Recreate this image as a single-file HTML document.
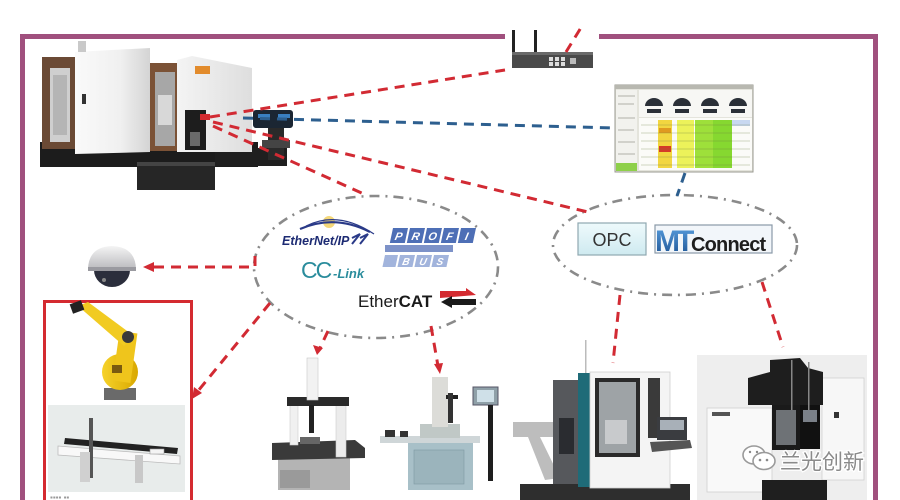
<!DOCTYPE html>
<html><head><meta charset="utf-8"><style>
html,body{margin:0;padding:0;background:#fff;width:900px;height:500px;overflow:hidden}
svg{display:block}
text{font-family:"Liberation Sans","Noto Sans CJK SC",sans-serif}
</style></head><body>
<svg width="900" height="500" viewBox="0 0 900 500" xmlns="http://www.w3.org/2000/svg">
<defs>
<linearGradient id="wh" x1="0" x2="1" y1="0" y2="0"><stop offset="0" stop-color="#fafafa"/><stop offset="0.6" stop-color="#f0f0f0"/><stop offset="1" stop-color="#d4d4d4"/></linearGradient>
<linearGradient id="cab" x1="0" x2="1"><stop offset="0" stop-color="#f4f4f4"/><stop offset="1" stop-color="#dedede"/></linearGradient>
<linearGradient id="opc" x1="0" x2="0" y1="0" y2="1"><stop offset="0" stop-color="#eefafc"/><stop offset="1" stop-color="#cfeaf0"/></linearGradient>
<linearGradient id="mt" x1="0" x2="0" y1="0" y2="1"><stop offset="0" stop-color="#5aa0e0"/><stop offset="1" stop-color="#1a4f90"/></linearGradient>
<linearGradient id="cam" x1="0" x2="0" y1="0" y2="1"><stop offset="0" stop-color="#f4f4f4"/><stop offset="1" stop-color="#b8b8bc"/></linearGradient>
<linearGradient id="yel" x1="0" x2="1"><stop offset="0" stop-color="#f6d22a"/><stop offset="1" stop-color="#d9a800"/></linearGradient>
</defs>

<!-- frame -->
<g fill="#a0507e">
<rect x="20" y="34" width="485" height="5"/>
<rect x="599" y="34" width="279" height="5"/>
<rect x="20" y="34" width="5" height="466"/>
<rect x="873" y="34" width="5" height="466"/>
</g>

<!-- main machine -->
<g>
<rect x="40" y="142" width="218" height="25" fill="#1c1c1c"/>
<rect x="215" y="148" width="72" height="18" fill="#1f1f1f"/>
<rect x="137" y="162" width="78" height="28" fill="#262626"/>
<rect x="137" y="162" width="78" height="4" fill="#444"/>
<rect x="42" y="57" width="35" height="92" fill="#6b4a35"/>
<rect x="50" y="68" width="20" height="74" fill="#cfcfcf"/>
<rect x="53" y="75" width="14" height="60" fill="#b5b5b5"/>
<path d="M75 52 L150 48 L150 152 L75 154 Z" fill="url(#wh)"/>
<rect x="78" y="41" width="8" height="11" fill="#c9c9c9"/>
<rect x="82" y="94" width="4" height="10" fill="#333"/>
<rect x="150" y="63" width="28" height="88" fill="#7b5236"/>
<rect x="155" y="72" width="20" height="74" fill="#a7a7a7"/>
<rect x="158" y="95" width="14" height="30" fill="#d8d8d8"/>
<path d="M177 60 L192 56 L252 68 L252 152 L177 152 Z" fill="url(#cab)"/>
<rect x="195" y="66" width="15" height="8" fill="#e28b2c"/>
<rect x="185" y="110" width="21" height="40" fill="#1d1d1d"/>
<rect x="190" y="132" width="10" height="14" fill="#6a6a6a"/>
<rect x="200" y="114" width="10" height="6" fill="#d42a30"/>
<rect x="253" y="110" width="40" height="18" rx="3" fill="#1b2633"/>
<rect x="258" y="114" width="12" height="4" fill="#3a7fc0"/>
<rect x="278" y="114" width="12" height="4" fill="#3a7fc0"/>
<rect x="268" y="128" width="16" height="32" fill="#2a2a2a"/>
<rect x="262" y="140" width="28" height="8" fill="#444"/>
</g>

<!-- router -->
<g>
<rect x="512" y="30" width="3" height="38" fill="#222"/>
<rect x="534" y="30" width="3" height="38" fill="#222"/>
<rect x="512" y="52" width="81" height="16" fill="#4a4a4a"/>
<rect x="512" y="52" width="81" height="3" fill="#6a6a6a"/>
<rect x="549" y="57" width="4" height="4" fill="#ddd"/><rect x="555" y="57" width="4" height="4" fill="#ddd"/><rect x="561" y="57" width="4" height="4" fill="#ddd"/>
<rect x="549" y="62" width="4" height="4" fill="#ddd"/><rect x="555" y="62" width="4" height="4" fill="#ddd"/><rect x="561" y="62" width="4" height="4" fill="#ddd"/>
<rect x="570" y="58" width="6" height="6" fill="#bbb"/>
</g>

<!-- dashboard screen -->
<g>
<rect x="615" y="85" width="138" height="87" fill="#e4e4dc" stroke="#9a9a90" stroke-width="1"/>
<rect x="615" y="85" width="138" height="4" fill="#b8b8b0"/>
<rect x="616" y="90" width="21" height="81" fill="#f2f2ee"/>
<g stroke="#b0b0a8" stroke-width="1">
<line x1="618" y1="96" x2="635" y2="96"/><line x1="618" y1="104" x2="634" y2="104"/><line x1="618" y1="118" x2="635" y2="118"/><line x1="618" y1="130" x2="634" y2="130"/><line x1="618" y1="142" x2="635" y2="142"/><line x1="618" y1="154" x2="635" y2="154"/>
</g>
<rect x="616" y="163" width="21" height="8" fill="#8ed04a"/>
<rect x="639" y="90" width="113" height="27" fill="#f7f7f4"/>
<g fill="#2b3038">
<path d="M645 106 A9 8 0 0 1 663 106 Z"/><path d="M673 106 A9 8 0 0 1 691 106 Z"/>
<path d="M701 106 A9 8 0 0 1 719 106 Z"/><path d="M729 106 A9 8 0 0 1 747 106 Z"/>
<rect x="647" y="109" width="14" height="4"/><rect x="675" y="109" width="14" height="4"/>
<rect x="703" y="109" width="14" height="4"/><rect x="731" y="109" width="14" height="4"/>
</g>
<rect x="639" y="118" width="113" height="52" fill="#fbfbf8"/>
<rect x="658" y="120" width="14" height="48" fill="#f2d640"/>
<rect x="659" y="128" width="12" height="5" fill="#e09a20"/>
<rect x="659" y="146" width="12" height="6" fill="#d43a28"/>
<rect x="677" y="120" width="17" height="48" fill="#ecf25a"/>
<rect x="695" y="120" width="18" height="48" fill="#9ee03a"/>
<rect x="713" y="120" width="19" height="48" fill="#86d830"/>
<rect x="732" y="120" width="18" height="6" fill="#c8d8f0"/>
<g stroke="#6a7a40" stroke-width="0.6" opacity="0.6">
<line x1="641" y1="125" x2="750" y2="125"/><line x1="641" y1="133" x2="750" y2="133"/><line x1="641" y1="141" x2="750" y2="141"/><line x1="641" y1="149" x2="750" y2="149"/><line x1="641" y1="157" x2="750" y2="157"/><line x1="641" y1="165" x2="750" y2="165"/>
</g>
</g>

<!-- ellipses -->
<g fill="none" stroke="#8a8a8a" stroke-width="2.6" stroke-dasharray="10 6 2 6">
<ellipse cx="376" cy="267" rx="122" ry="71"/>
<ellipse cx="675" cy="245" rx="122" ry="50"/>
</g>

<!-- connectors -->
<g fill="none" stroke="#d22a33" stroke-width="3" stroke-dasharray="10 7">
<line x1="210" y1="117" x2="505" y2="70"/>
<line x1="566" y1="52" x2="582" y2="26"/>
<line x1="213" y1="122" x2="588" y2="212"/>
<line x1="213" y1="126" x2="366" y2="195"/>
<path d="M255 256 L255 267 L150 267"/>
<line x1="270" y1="303" x2="198" y2="391"/>
<line x1="328" y1="331" x2="320" y2="348"/>
<line x1="431" y1="326" x2="438" y2="366"/>
<line x1="620" y1="295" x2="613" y2="363"/>
<line x1="762" y1="282" x2="783" y2="347"/>
</g>
<g fill="none" stroke="#2d5f8f" stroke-width="3" stroke-dasharray="10 7">
<line x1="243" y1="118" x2="614" y2="128"/>
<line x1="685" y1="173" x2="677" y2="196"/>
</g>
<g fill="#d22a33">
<polygon points="143,267 154,262 154,272"/>
<polygon points="192,399 194,387 202,393"/>
<polygon points="317,355 313,345 323,348"/>
<polygon points="440,374 434,364 443,363"/>
</g>

<!-- protocol logos -->
<g>
<circle cx="329" cy="222" r="6" fill="#f2d060" opacity="0.85"/>
<path d="M300 229 Q335 214 370 232" fill="none" stroke="#2a3a88" stroke-width="2.2"/>
<path d="M306 226 Q338 210 374 234" fill="none" stroke="#2a3a88" stroke-width="1.2"/>
<path d="M352 238 L360 234 L352 244 M360 238 L368 234 L360 244" fill="none" stroke="#2a3a88" stroke-width="2"/>
<text x="282" y="245" font-size="12.5" font-weight="bold" font-style="italic" fill="#1d2b73">EtherNet/IP</text>

<g transform="translate(393,228) skewX(-12)">
<rect x="0" y="0" width="15" height="15" fill="#4e6fb6"/><rect x="17" y="0" width="15" height="15" fill="#4e6fb6"/><rect x="34" y="0" width="15" height="15" fill="#4e6fb6"/><rect x="51" y="0" width="15" height="15" fill="#4e6fb6"/><rect x="68" y="0" width="15" height="15" fill="#4e6fb6"/>
<g font-size="11" font-weight="bold" font-style="italic" fill="#fff" text-anchor="middle">
<text x="7.5" y="12">P</text><text x="24.5" y="12">R</text><text x="41.5" y="12">O</text><text x="58.5" y="12">F</text><text x="75.5" y="12">I</text>
</g>
</g>
<rect x="385" y="245" width="68" height="7" fill="#7d92c8"/>
<g transform="translate(385,255) skewX(-12)">
<rect x="0" y="0" width="13" height="12" fill="#a2b4dc"/><rect x="15" y="0" width="15" height="12" fill="#a2b4dc"/><rect x="32" y="0" width="15" height="12" fill="#a2b4dc"/><rect x="49" y="0" width="15" height="12" fill="#a2b4dc"/>
<g font-size="10" font-weight="bold" font-style="italic" fill="#fff" text-anchor="middle">
<text x="22.5" y="10">B</text><text x="39.5" y="10">U</text><text x="56.5" y="10">S</text>
</g>
</g>

<text x="301" y="278" font-size="23" fill="#2a8c9c" letter-spacing="-2">CC</text>
<text x="333" y="278" font-size="13" font-weight="bold" font-style="italic" fill="#2a8c9c">-Link</text>

<text x="358" y="307" font-size="17" fill="#1a1a1a">Ether<tspan font-weight="bold">CAT</tspan></text>
<polygon points="440,291 466,291 466,288 476,295 440,298" fill="#d42a30"/>
<polygon points="476,299 452,299 452,296 441,302 452,308 452,305 476,305" fill="#1a1a1a"/>
</g>

<!-- OPC / MTConnect -->
<rect x="578" y="223" width="68" height="32" fill="url(#opc)" stroke="#8fa8b0" stroke-width="1.2"/>
<text x="612" y="246" font-size="18" fill="#333" text-anchor="middle">OPC</text>
<rect x="655" y="225" width="117" height="28" fill="#f2f6fa" stroke="#8a9aa8" stroke-width="1.2"/>
<text x="655" y="251" font-size="30" font-weight="bold" fill="url(#mt)" letter-spacing="-4">MT</text>
<text x="691" y="251" font-size="20" font-weight="bold" fill="#1e1e1e" letter-spacing="-0.8">Connect</text>

<!-- camera -->
<g>
<path d="M88 270 Q88 247 112 246 Q136 247 136 270 Z" fill="url(#cam)"/>
<path d="M94 270 A18 17 0 0 0 130 270 Z" fill="#2b2e3c"/>
<rect x="88" y="267" width="48" height="4" fill="#9a9aa0"/>
<circle cx="104" cy="280" r="2" fill="#888"/>
</g>

<!-- robot box -->
<rect x="44.5" y="301.5" width="147" height="210" fill="none" stroke="#d42a30" stroke-width="3"/>
<rect x="48" y="405" width="137" height="87" fill="#e8eceb"/>
<!-- yellow robot -->
<g>
<rect x="104" y="388" width="32" height="12" fill="#6a6a6a"/>
<ellipse cx="120" cy="372" rx="18" ry="18" fill="url(#yel)"/>
<rect x="116" y="332" width="18" height="50" fill="#efc51c" transform="rotate(8 125 357)"/>
<polygon points="78,306 88,302 134,336 124,346" fill="#f1cb22"/>
<rect x="71" y="302" width="12" height="10" fill="#222" transform="rotate(-20 77 307)"/>
<circle cx="128" cy="337" r="6" fill="#3a3a3a"/>
<rect x="112" y="365" width="10" height="8" fill="#7a5a10"/>
</g>
<!-- gantry -->
<g>
<polygon points="65,438 178,448 177,454 64,444" fill="#222"/>
<polygon points="58,446 180,456 180,464 58,455" fill="#f8f8f8" stroke="#bbb" stroke-width="0.8"/>
<rect x="89" y="418" width="4" height="60" fill="#555"/>
<rect x="80" y="452" width="10" height="30" fill="#d0d0d0"/>
<rect x="135" y="455" width="8" height="28" fill="#c8c8c8"/>
<rect x="150" y="449" width="14" height="5" fill="#f4f4f4" stroke="#999" stroke-width="0.6"/>
</g>
<text x="50" y="500" font-size="8" fill="#999">▪▪▪▪ ▪▪</text>

<!-- CMM -->
<g>
<rect x="278" y="456" width="72" height="34" fill="#b4b4b4"/>
<rect x="280" y="470" width="30" height="18" fill="#9a9a9a"/>
<polygon points="272,443 355,440 365,448 365,458 272,460" fill="#3a3a3a"/>
<rect x="290" y="405" width="8" height="40" fill="#f0f0f0" stroke="#ccc" stroke-width="0.6"/>
<rect x="336" y="405" width="10" height="52" fill="#ececec" stroke="#ccc" stroke-width="0.6"/>
<rect x="287" y="397" width="62" height="9" fill="#2a2a2a"/>
<rect x="307" y="358" width="11" height="42" fill="#f2f2f2" stroke="#c8c8c8" stroke-width="0.6"/>
<rect x="309" y="405" width="5" height="28" fill="#222"/>
<rect x="300" y="437" width="20" height="7" fill="#666"/>
</g>

<!-- tool presetter -->
<g>
<rect x="408" y="442" width="65" height="48" fill="#a8c0c8"/>
<rect x="414" y="450" width="50" height="34" fill="#9bb4bc" stroke="#7f9aa4" stroke-width="0.6"/>
<rect x="380" y="436" width="100" height="7" fill="#cfd6d8"/>
<rect x="385" y="430" width="10" height="7" fill="#333"/><rect x="400" y="431" width="8" height="6" fill="#333"/>
<rect x="420" y="424" width="40" height="14" fill="#c0c8c6"/>
<rect x="432" y="377" width="16" height="50" fill="#dcdcd8"/>
<rect x="446" y="395" width="12" height="4" fill="#222"/>
<rect x="448" y="393" width="5" height="30" fill="#333"/>
<rect x="473" y="387" width="25" height="18" fill="#8fa0a8" stroke="#556" stroke-width="1"/>
<rect x="477" y="390" width="17" height="12" fill="#cfe0e8"/>
<rect x="488" y="405" width="5" height="76" fill="#1e1e1e"/>
</g>

<!-- DMG machine -->
<g>
<rect x="520" y="484" width="170" height="16" fill="#2e2e2e"/>
<polygon points="513,422 553,422 553,437 540,437 560,478 545,480 528,437 513,437" fill="#bdbdbd"/>
<rect x="553" y="380" width="25" height="104" fill="#56585c"/>
<rect x="559" y="418" width="15" height="36" fill="#2a2c30"/>
<rect x="578" y="373" width="14" height="114" fill="#1f6b78"/>
<rect x="590" y="372" width="80" height="116" fill="#f4f4f4" stroke="#cfcfcf" stroke-width="0.8"/>
<rect x="595" y="378" width="45" height="79" fill="#2a2a2a"/>
<rect x="599" y="382" width="37" height="71" fill="#9ea3a6"/>
<rect x="605" y="420" width="22" height="24" fill="#c8cacc"/>
<rect x="648" y="378" width="12" height="60" fill="#3a3a3a"/>
<rect x="657" y="417" width="30" height="23" fill="#3a3c40"/>
<rect x="660" y="420" width="24" height="10" fill="#a8b0b8"/>
<polygon points="650,442 690,440 692,448 652,452" fill="#555"/>
<rect x="585" y="340" width="1.5" height="33" fill="#bbb"/>
</g>

<!-- vertical machine -->
<g>
<rect x="697" y="355" width="170" height="145" fill="#eeeeee"/>
<rect x="822" y="378" width="42" height="102" fill="#f7f7f7" stroke="#d0d0d0" stroke-width="0.8"/>
<rect x="707" y="408" width="65" height="84" fill="#f9f9f9" stroke="#d0d0d0" stroke-width="0.8"/>
<rect x="712" y="412" width="18" height="4" fill="#555"/>
<path d="M748 405 L748 378 L770 372 L770 360 L800 358 L808 368 L823 372 L823 405 Z" fill="#1e1e1e"/>
<rect x="772" y="405" width="28" height="45" fill="#1a1a1a"/>
<rect x="776" y="410" width="20" height="35" fill="#6e7276"/>
<rect x="800" y="405" width="20" height="44" fill="#111"/>
<rect x="803" y="410" width="14" height="12" fill="#7a8088"/>
<rect x="791" y="360" width="1.5" height="50" fill="#888"/>
<rect x="808" y="362" width="1.5" height="48" fill="#888"/>
<rect x="834" y="412" width="5" height="6" fill="#333"/>
<rect x="762" y="480" width="65" height="20" fill="#1f1f1f"/>
</g>

<!-- watermark -->
<g>
<ellipse cx="754" cy="455" rx="11" ry="9" fill="#fff" stroke="#9a9a9a" stroke-width="1.6"/>
<ellipse cx="764" cy="461" rx="11" ry="8.5" fill="#fff" stroke="#9a9a9a" stroke-width="1.6"/>
<circle cx="760" cy="460" r="1.3" fill="#888"/><circle cx="767" cy="460" r="1.3" fill="#888"/>
<circle cx="750" cy="452" r="1.2" fill="#888"/><circle cx="757" cy="452" r="1.2" fill="#888"/>
<text x="780" y="469" font-size="21" fill="#8a8a8a" stroke="#ffffff" stroke-width="2.5" paint-order="stroke" style="font-family:'Liberation Sans','Noto Sans CJK SC',sans-serif">兰光创新</text>
</g>
</svg>
</body></html>
